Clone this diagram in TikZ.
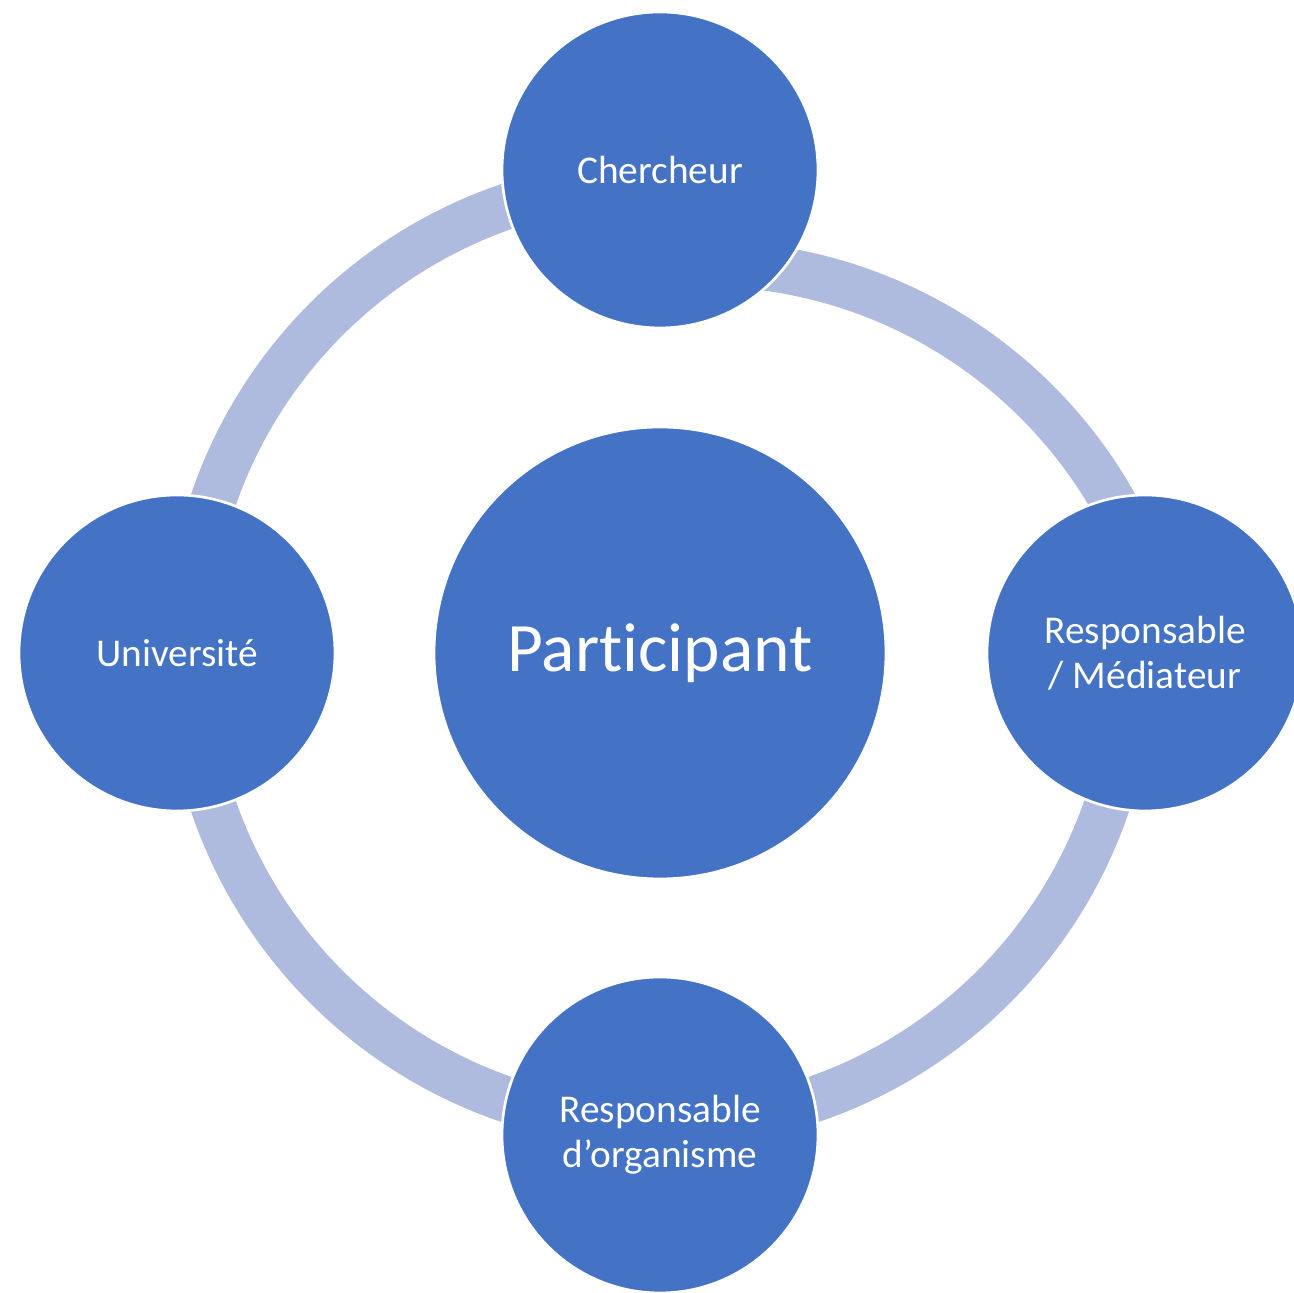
\documentclass[tikz,border=0pt]{standalone}
\usepackage{fontspec}
\setmainfont{Carlito}[Ligatures={NoCommon}]
\definecolor{nodeblue}{RGB}{68,114,196}
\definecolor{ringblue}{RGB}{175,187,222}
\begin{document}
\begin{tikzpicture}[x=0.02cm,y=0.02cm,
  outer/.style={circle,fill=nodeblue,draw=white,line width=1.5pt,minimum size=6.32cm,inner sep=0pt,
    text=white,align=center,font=\fontsize{22.4}{25.5}\selectfont},
  hub/.style={circle,fill=nodeblue,draw=white,line width=1.5pt,minimum size=9.04cm,inner sep=0pt,
    text=white,align=center,font=\fontsize{39.5}{44}\selectfont},
  ring/.style={draw=ringblue,line width=26.1pt}]
\useasboundingbox (0,0) rectangle (1294,1293);
\clip (0,0) rectangle (1294,1293);
\coordinate (ctr) at (660,640);
\coordinate (ctr2) at (703,557.5);
% ring arcs (behind the nodes)
\draw[ring] ([shift={(90:472)}]ctr) arc[start angle=90,end angle=180,radius=472];
\draw[ring] ([shift={(180:472)}]ctr) arc[start angle=180,end angle=270,radius=472];
\draw[ring] ([shift={(270:472)}]ctr) arc[start angle=270,end angle=360,radius=472];
\draw[ring] ([shift={(90:472)}]ctr2) arc[start angle=90,end angle=20,radius=472];
% nodes
\node[hub] (part) at (ctr) {Participant};
\node[outer] (cher) at (660,1123) {Chercheur};
\node[outer] (univ) at (177,640) {Université};
\node[outer] (med) at (1145,640) {Responsable\\/ Médiateur};
\node[outer] (org) at (660,158) {Responsable\\d’organisme};
\end{tikzpicture}
\end{document}
